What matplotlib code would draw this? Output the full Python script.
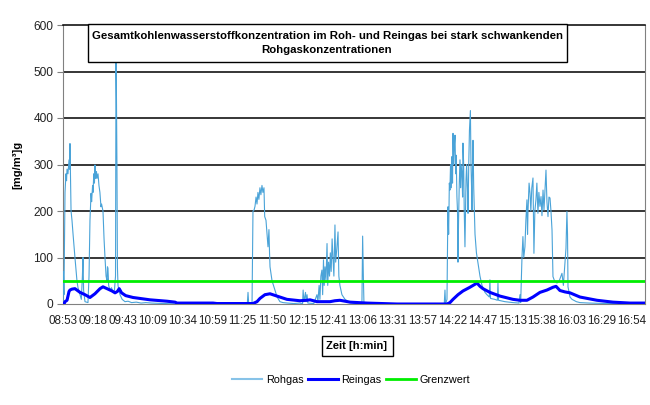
import matplotlib
matplotlib.use("Agg")
import matplotlib.pyplot as plt
from matplotlib.patches import Rectangle

plt.rcParams['font.family'] = ['Liberation Sans', 'DejaVu Sans']

# time axis: minutes after 08:53
tick_labels = ["08:53", "09:18", "09:43", "10:09", "10:34", "10:59", "11:25", "11:50",
               "12:15", "12:41", "13:06", "13:31", "13:57", "14:22", "14:47", "15:13",
               "15:38", "16:03", "16:29", "16:54"]
span_minutes = 481
x_max = 492

grenzwert = 50

rohgas_t = [0, 0.3, 0.8, 1.7, 2.5, 3.0, 3.4, 4.2, 5.1, 5.5, 5.9, 6.4, 6.8, 7.6, 8.5, 10.1, 11.8,
            12.7, 14.4, 15.5, 16.4, 16.9, 17.4, 18.6, 21.1, 22.0, 22.8, 23.7, 24.2, 25.0, 25.4,
            26.0, 26.6, 27.0, 27.6, 28.3, 28.7, 29.6, 30.4, 31.2, 32.1, 32.6, 33.8, 34.7, 35.5,
            36.4, 37.2, 37.6, 38.0, 38.6, 39.7, 41.0, 42.3, 43.5, 44.4, 44.8, 45.2, 45.6, 46.0,
            46.5, 47.3, 48.2, 50.0, 52.4, 55, 58, 62, 66, 70, 75, 85, 95, 110, 125, 140, 150,
            155.8, 156.4, 157, 159.8, 160.6, 161.5, 162.3, 163.2, 164.0, 164.8, 165.6, 166.5,
            167.3, 168.2, 169.0, 169.9, 170.5, 171.6, 172.5, 173.3, 174.1, 174.6, 175.0, 176.7,
            179.2, 181, 183.4, 186, 190, 195, 200.3, 202.5, 203.0, 203.6, 205.0, 205.5, 206.3,
            207, 212, 214.7, 215.5, 216.5, 217.2, 218.0, 218.9, 219.5, 220.2, 220.8, 221.5,
            222.3, 223.2, 223.8, 224.5, 225.3, 226.0, 226.7, 227.5, 228.2, 229.0, 229.9, 230.5,
            231.5, 232.5, 233.2, 234.1, 235.8, 238.4, 242.6, 248, 252.7, 253.3, 253.9, 254.4,
            257, 270, 282, 300, 315, 322.3, 322.9, 323.4, 324.6, 325.4, 326.0, 326.6, 327.1,
            327.6, 328.3, 328.8, 329.3, 329.7, 330.2, 330.8, 331.4, 331.9, 332.4, 333.0, 333.5,
            333.9, 334.4, 335.0, 335.6, 336.1, 336.6, 337.3, 337.8, 338.1, 338.7, 339.2, 339.8,
            340.3, 340.7, 341.2, 341.5, 342.0, 342.4, 343.0, 343.6, 344.4, 344.9, 345.4, 345.7,
            346.2, 346.6, 347.2, 347.7, 348.3, 349.5, 350.8, 352.5, 354.2, 356.7, 358.4, 360.4,
            360.9, 361.4, 365, 367.2, 367.7, 368.2, 373.6, 380.4, 385.5, 386.3, 386.9, 388.0,
            388.8, 389.5, 390.5, 391.3, 392.2, 392.7, 393.1, 394.0, 394.8, 395.5, 396.3, 397.3,
            398.1, 398.9, 399.8, 400.6, 401.5, 402.3, 403.2, 404.1, 404.9, 405.8, 406.6, 407.5,
            408.3, 409.1, 410.0, 410.8, 411.7, 412.5, 413.4, 414.2, 415.5, 417.6, 419.5, 421.8,
            423.0, 424.3, 425.2, 426.0, 426.5, 426.9, 428.6, 430.3, 434, 437.0, 445, 460, 475, 492]
rohgas_v = [0, 70, 20, 240, 280, 265, 290, 280, 310, 290, 345, 260, 200, 180, 150, 100, 50,
            35, 20, 10, 60, 100, 30, 5, 3, 60, 180, 238, 220, 255, 240,
            280, 260, 299, 270, 285, 270, 280, 255, 240, 209, 215, 200, 140, 100,
            60, 50, 80, 77, 40, 30, 35, 25, 30, 60, 520, 440, 300, 80,
            40, 30, 20, 10, 5, 6, 3, 4, 2, 3, 2, 1, 2, 1, 1, 1, 0,
            0, 25, 0, 0, 200, 202, 210, 230, 215, 240, 225, 250,
            235, 255, 240, 250, 188, 180, 150, 123, 160, 110, 80, 50,
            30, 15, 5, 3, 2, 1, 2, 0, 30, 5, 25, 5, 20,
            2, 1, 20, 5, 40, 10, 60, 73, 20, 95, 40, 80,
            50, 130, 40, 90, 60, 110, 70, 140, 100, 60, 170, 90,
            120, 155, 60, 40, 20, 10, 3, 1, 2, 146, 60, 3,
            1, 0, 1, 0, 1, 0, 30, 0, 10, 209, 150, 260, 245,
            300, 250, 317, 260, 367, 300, 340, 363, 280, 320, 231, 200,
            90, 180, 260, 310, 250, 300, 274, 230, 346, 300, 200, 123,
            200, 267, 300, 280, 240, 195, 300, 374, 416, 300, 250, 202,
            300, 352, 250, 202, 150, 110, 88, 60, 40, 25, 20, 15,
            52, 12, 10, 8, 45, 8, 5, 3, 2, 20, 3, 100,
            145, 100, 123, 180, 224, 150, 200, 260, 238, 200, 250, 271,
            109, 200, 224, 260, 195, 240, 210, 231, 190, 245, 202, 250,
            288, 220, 188, 230, 228, 200, 159, 59, 50, 45, 50, 66,
            40, 88, 120, 199, 150, 37, 15, 10, 5, 3, 2, 1, 2, 1]

reingas_t = [0, 0.85, 1.7, 3.4, 5.1, 5.9, 7.6, 10.1, 14.4, 18.6, 22.8, 27.0, 31.3, 33.8, 37.2,
             41.4, 44.0, 46.0, 47.5, 49.5, 53.0, 59.2, 73.5, 87.9, 94.7, 96.4, 126.8, 130.2,
             160.6, 164, 166.5, 170.7, 175, 180.9, 189.3, 200.3, 206.3, 208.8, 214.7, 225.7,
             229.9, 234.1, 238.4, 242.6, 257, 282.3, 324.6, 327.1, 329.7, 333.9, 338.1, 344,
             350, 352.5, 355, 360.9, 369.4, 380.4, 386.3, 392.2, 397.3, 403.2, 409.1, 414.2,
             416.8, 420.1, 424.3, 428.6, 437, 451.4, 464.9, 479.3, 492]
reingas_v = [0, 0, 5, 8, 27, 30, 32, 33, 25, 20, 14, 22, 33, 37, 33,
             28, 24, 27, 33, 24, 18, 14, 9, 6, 4, 2, 2, 1,
             1, 5, 12, 20, 22, 17, 10, 7, 8, 9, 5, 5,
             7, 8, 6, 4, 2, 0, 0, 3, 10, 20, 28, 36,
             45, 38, 33, 25, 17, 10, 8, 8, 15, 25, 30, 36,
             38, 29, 26, 24, 15, 8, 4, 2, 2]

fig = plt.figure(figsize=(6.5, 4.05), dpi=100)
ax = fig.add_axes([63/650, 1-304/405, (645-63)/650, (304-25)/405])

for yv in [100, 200, 300, 400, 500]:
    ax.axhline(yv, color='black', lw=1.1, zorder=1)

ax.plot(rohgas_t, rohgas_v, color='#4AA3D8', lw=0.8, label='Rohgas', zorder=3)
ax.plot(reingas_t, reingas_v, color='#0000FF', lw=2.2, label='Reingas', zorder=4)
ax.axhline(grenzwert, color='#00EE00', lw=2, label='Grenzwert', zorder=5)

ax.set_xlim(0, x_max)
ax.set_ylim(0, 600)
ax.set_yticks(range(0, 601, 100))
ax.set_xticks([i*span_minutes/19 for i in range(20)])
ax.set_xticklabels(tick_labels)
ax.tick_params(axis='x', length=0, labelsize=8.4, colors='#222222', pad=8)
ax.tick_params(axis='y', length=4, labelsize=8.6, colors='#222222', direction='out', pad=3)
ax.tick_params(axis='y', color='#808080')
for s in ['left', 'bottom', 'right']:
    ax.spines[s].set_color('#808080')
ax.spines['top'].set_color('black')
ax.spines['top'].set_linewidth(1.1)

fig.text(17/650, 1-165/405, '[mg/m³]g', rotation=90, ha='center', va='center',
         fontsize=8, fontweight='bold')

# title box
fig.patches.append(Rectangle((88/650, 1-62/405), 479/650, 38/405, transform=fig.transFigure,
                             facecolor='white', edgecolor='black', lw=1, zorder=10))
fig.text(327/650, 1-43/405,
         'Gesamtkohlenwasserstoffkonzentration im Roh- und Reingas bei stark schwankenden\nRohgaskonzentrationen',
         ha='center', va='center', fontsize=8.2, fontweight='bold', linespacing=1.5, zorder=11)

fig.text(357/650, 1-346/405, 'Zeit [h:min]', ha='center', va='center', fontsize=8,
         fontweight='bold',
         bbox=dict(boxstyle='square,pad=0.45', facecolor='white', edgecolor='black', lw=1))

leg = fig.legend(loc='center', bbox_to_anchor=(351/650, 1-380/405), ncol=3, frameon=False,
                 fontsize=7.8, handlelength=2.8, columnspacing=0.4, handletextpad=0.3)
leg.get_lines()[0].set_color('#87C3E8')
leg.get_lines()[0].set_linewidth(1.5)

fig.savefig('out.png', dpi=100)
